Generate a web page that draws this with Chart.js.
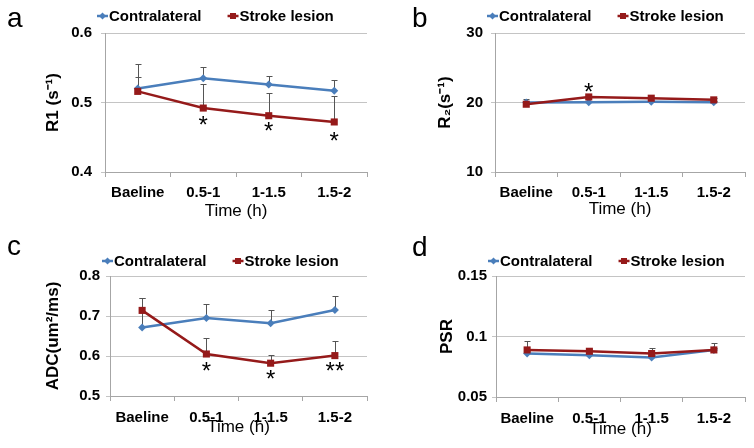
<!DOCTYPE html>
<html>
<head>
<meta charset="utf-8">
<script src="https://cdn.jsdelivr.net/npm/chart.js@4.4.0/dist/chart.umd.min.js"></script>
<style>
  body { margin: 0; background: #fff; }
  #wrap { position: relative; width: 754px; height: 448px; }
  #wrap canvas { position: absolute; }
</style>
</head>
<body>
<div id="wrap">
  <canvas id="panelA" width="377" height="224" style="left:0;top:0"></canvas>
  <canvas id="panelB" width="377" height="224" style="left:377px;top:0"></canvas>
  <canvas id="panelC" width="377" height="224" style="left:0;top:224px"></canvas>
  <canvas id="panelD" width="377" height="224" style="left:377px;top:224px"></canvas>
</div>
<script>
// time bins (x categories), as printed on the figure
const timeLabels = ["Baeline", "0.5-1", "1-1.5", "1.5-2"];
const seriesNames = ["Contralateral", "Stroke lesion"];

// a) R1
const r1Contra = [0.520, 0.535, 0.526, 0.517];
const r1ContraErr = [0.016, 0.016, 0.012, 0.016];
const r1Stroke = [0.516, 0.492, 0.481, 0.472];
const r1StrokeErr = [0.039, 0.034, 0.032, 0.037];
const r1Sig = ["", "*", "*", "*"];
const r1SigAt = [null, 0.475, 0.466, 0.452];

// b) R2
const r2Contra = [20.0, 20.05, 20.1, 20.05];
const r2ContraErr = [0.55, 0.15, 0.15, 0.2];
const r2Stroke = [19.75, 20.8, 20.62, 20.38];
const r2StrokeErr = [0.3, 0.2, 0.2, 0.3];
const r2Sig = ["", "*", "", ""];
const r2SigAt = [null, 22.2, null, null];

// c) ADC
const adcContra = [0.671, 0.695, 0.682, 0.715];
const adcContraErr = [0.075, 0.034, 0.032, 0.036];
const adcStroke = [0.714, 0.605, 0.582, 0.601];
const adcStrokeErr = [0.032, 0.040, 0.021, 0.036];
const adcSig = ["", "*", "*", "**"];
const adcSigAt = [null, 0.574, 0.554, 0.574];

// d) PSR
const psrContra = [0.0859, 0.0846, 0.0826, 0.0889];
const psrContraErr = [0.002, 0.002, 0.002, 0.002];
const psrStroke = [0.0889, 0.0878, 0.0859, 0.0889];
const psrStrokeErr = [0.007, 0.0015, 0.0044, 0.0056];
const psrSig = ["", "", "", ""];
const psrSigAt = [null, null, null, null];

const FONT = "'Liberation Sans', Arial, sans-serif";
const BLUE = "#4a7ebb";
const RED = "#951a1a";

// error bars, legend, panel letter and asterisks
const extras = {
    id: "extras",
    beforeDatasetsDraw(chart) {
        const { ctx, scales: { x, y } } = chart;
        ctx.save();
        ctx.strokeStyle = "#555";
        ctx.lineWidth = 1;
        chart.data.datasets.forEach(ds => {
            ds.data.forEach((v, i) => {
                const px = Math.round(x.getPixelForValue(i)) + 0.5;
                const y0 = y.getPixelForValue(v);
                const y1 = Math.round(y.getPixelForValue(v + ds.errorBars[i])) + 0.5;
                ctx.beginPath();
                ctx.moveTo(px, y0);
                ctx.lineTo(px, y1);
                ctx.moveTo(px - 3, y1);
                ctx.lineTo(px + 3, y1);
                ctx.stroke();
            });
        });
        ctx.restore();
    },
    afterDraw(chart, args, opts) {
        const { ctx, chartArea, scales: { x, y } } = chart;
        ctx.save();
        // panel letter
        ctx.fillStyle = "#000";
        ctx.font = "28px " + FONT;
        ctx.textBaseline = "alphabetic";
        ctx.textAlign = "left";
        ctx.fillText(opts.letter, opts.letterX, opts.letterY);

        // legend
        let lx = chartArea.left - 8;
        ctx.font = "bold 15px " + FONT;
        ctx.textBaseline = "middle";
        chart.data.datasets.forEach(ds => {
            ctx.strokeStyle = ds.borderColor;
            ctx.fillStyle = ds.borderColor;
            ctx.lineWidth = 2.5;
            ctx.beginPath();
            ctx.moveTo(lx, opts.legendY);
            ctx.lineTo(lx + 11, opts.legendY);
            ctx.stroke();
            const cx = lx + 5.5;
            ctx.beginPath();
            if (ds.pointStyle === "rect") {
                ctx.rect(cx - 3, opts.legendY - 3, 6, 6);
            } else {
                ctx.moveTo(cx, opts.legendY - 3.5);
                ctx.lineTo(cx + 3.5, opts.legendY);
                ctx.lineTo(cx, opts.legendY + 3.5);
                ctx.lineTo(cx - 3.5, opts.legendY);
                ctx.closePath();
            }
            ctx.fill();
            ctx.fillStyle = "#000";
            ctx.fillText(ds.label, lx + 12, opts.legendY + 1);
            lx += 12 + ctx.measureText(ds.label).width + opts.legendGap;
        });

        // significance marks
        ctx.font = "24px " + FONT;
        ctx.textAlign = "center";
        ctx.textBaseline = "alphabetic";
        opts.sig.forEach((s, i) => {
            if (!s) return;
            const py = y.getPixelForValue(opts.sigAt[i]);
            ctx.fillText(s, x.getPixelForValue(i), py + 13);
        });
        ctx.restore();
    }
};

function makePanel(id, p) {
    const ctx = document.getElementById(id).getContext("2d");
    return new Chart(ctx, {
        type: "line",
        data: {
            labels: timeLabels,
            datasets: [{
                label: seriesNames[0],
                data: p.contra,
                errorBars: p.contraErr,
                borderColor: BLUE,
                backgroundColor: BLUE,
                borderWidth: 2.5,
                pointStyle: "rectRot",
                pointRadius: 4,
                pointBorderWidth: 0,
                order: 1
            }, {
                label: seriesNames[1],
                data: p.stroke,
                errorBars: p.strokeErr,
                borderColor: RED,
                backgroundColor: RED,
                borderWidth: 2.5,
                pointStyle: "rect",
                pointRadius: 5,
                pointBorderWidth: 0,
                order: 0
            }]
        },
        options: {
            responsive: false,
            animation: false,
            devicePixelRatio: 1,
            layout: { padding: { left: p.axisLeft, right: p.padRight, top: p.padTop, bottom: p.padBottom } },
            plugins: {
                legend: { display: false },
                tooltip: { enabled: false },
                extras: {
                    letter: p.letter, letterX: p.letterX, letterY: p.letterY,
                    legendY: p.legendY, legendGap: 26,
                    sig: p.sig, sigAt: p.sigAt
                }
            },
            scales: {
                x: {
                    offset: true,
                    afterFit: s => { s.height = p.xHeight; },
                    grid: { offset: true, drawOnChartArea: false, drawTicks: true, tickLength: 5, color: "#a6a6a6" },
                    border: { color: "#a6a6a6" },
                    ticks: { color: "#000", padding: p.xTickPad, font: { family: FONT, size: 15, weight: "bold" } },
                    title: { display: true, text: "Time (h)", color: "#000", padding: { top: 0, bottom: 2 },
                        font: { family: FONT, size: 17 } }
                },
                y: {
                    min: p.min, max: p.max,
                    afterFit: s => { s.width = p.yWidth; },
                    grid: { color: "#c4c4c4", tickLength: 4 },
                    border: { color: "#a6a6a6" },
                    ticks: {
                        stepSize: p.step, padding: p.tickPad, color: "#000",
                        font: { family: FONT, size: 15, weight: "bold" },
                        callback: v => String(Number(v.toFixed(3)))
                    },
                    title: { display: true, text: p.yTitle, color: "#000", padding: { top: 4, bottom: 0 },
                        font: { family: FONT, size: 17, weight: "bold" } }
                }
            }
        },
        plugins: [extras]
    });
}

makePanel("panelA", {
    letter: "a", letterX: 7, letterY: 27, legendY: 16,
    yTitle: "R1 (s\u207B\u00B9)", min: 0.4, max: 0.6, step: 0.1,
    contra: r1Contra, contraErr: r1ContraErr, stroke: r1Stroke, strokeErr: r1StrokeErr,
    sig: r1Sig, sigAt: r1SigAt,
    axisLeft: 39, yWidth: 66, tickPad: 9, padRight: 10, padTop: 33, padBottom: 0, xHeight: 52, xTickPad: 7
});
makePanel("panelB", {
    letter: "b", letterX: 35, letterY: 27, legendY: 16,
    yTitle: "R\u2082(s\u207B\u00B9)", min: 10, max: 30, step: 10,
    contra: r2Contra, contraErr: r2ContraErr, stroke: r2Stroke, strokeErr: r2StrokeErr,
    sig: r2Sig, sigAt: r2SigAt,
    axisLeft: 54, yWidth: 64, tickPad: 8, padRight: 9, padTop: 33, padBottom: 2, xHeight: 50, xTickPad: 7
});
makePanel("panelC", {
    letter: "c", letterX: 7, letterY: 31, legendY: 37,
    yTitle: "ADC(um\u00B2/ms)", min: 0.5, max: 0.8, step: 0.1,
    contra: adcContra, contraErr: adcContraErr, stroke: adcStroke, strokeErr: adcStrokeErr,
    sig: adcSig, sigAt: adcSigAt,
    axisLeft: 39, yWidth: 71, tickPad: 6, padRight: 10, padTop: 52, padBottom: 8, xHeight: 44, xTickPad: 8
});
makePanel("panelD", {
    letter: "d", letterX: 35, letterY: 32, legendY: 37,
    yTitle: "PSR", min: 0.05, max: 0.15, step: 0.05,
    contra: psrContra, contraErr: psrContraErr, stroke: psrStroke, strokeErr: psrStrokeErr,
    sig: psrSig, sigAt: psrSigAt,
    axisLeft: 56, yWidth: 63, tickPad: 5, padRight: 9, padTop: 52, padBottom: 6, xHeight: 45, xTickPad: 8
});
</script>
</body>
</html>
